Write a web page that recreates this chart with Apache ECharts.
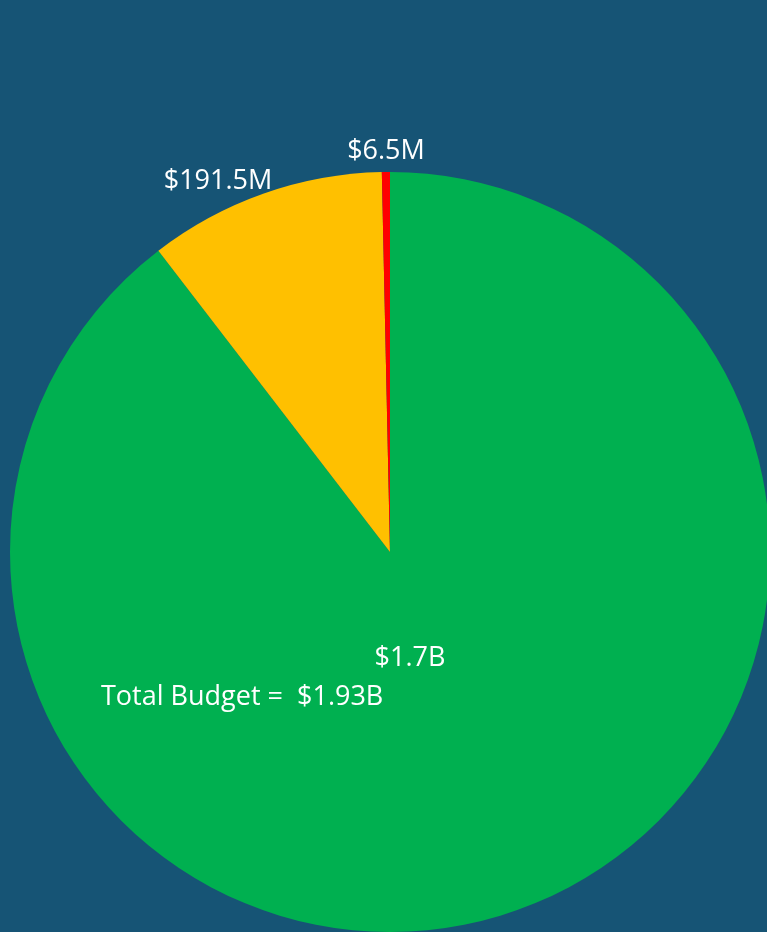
<!DOCTYPE html>
<html>
<head>
<meta charset="utf-8">
<title>Budget</title>
<script src="https://cdn.jsdelivr.net/npm/echarts@6/dist/echarts.min.js"></script>
<style>
  html, body { margin: 0; padding: 0; background: #165475; }
  #main { width: 767px; height: 932px; }
</style>
</head>
<body>
<div id="main"></div>
<script>
  // 数据
  var names = ['Funded', 'Pending', 'Other'];
  var values = [1700, 191.5, 6.5];
  var labels = ['$1.7B', '$191.5M', '$6.5M'];
  var colors = ['#00b050', '#ffc000', '#ff0000'];
  var totalText = 'Total Budget =  $1.93B';

  // label positions (px)
  var labelPos = [[410, 658], [218, 181], [386, 151]];

  var myChart = echarts.init(document.getElementById('main'));

  var data = [];
  for (var i = 0; i < values.length; i++) {
    data.push({
      name: names[i],
      value: values[i],
      itemStyle: { color: colors[i] },
      label: { formatter: labels[i] }
    });
  }

  var option = {
    backgroundColor: '#165475',
    animation: false,
    graphic: [{
      type: 'text',
      z: 100,
      left: 101,
      top: 684,
      style: {
        text: totalText,
        fill: '#ffffff',
        fontSize: 27,
        fontFamily: 'Open Sans'
      }
    }],
    series: [{
      type: 'pie',
      center: [390, 552],
      radius: 380,
      startAngle: 90,
      clockwise: true,
      silent: true,
      label: {
        show: true,
        color: '#ffffff',
        fontSize: 27,
        fontFamily: 'Open Sans',
        position: 'outside'
      },
      labelLine: { show: false },
      labelLayout: function (params) {
        var p = labelPos[params.dataIndex];
        return { x: p[0], y: p[1], align: 'center', verticalAlign: 'middle' };
      },
      itemStyle: { borderWidth: 0 },
      data: data
    }]
  };
  myChart.setOption(option);
</script>
</body>
</html>
